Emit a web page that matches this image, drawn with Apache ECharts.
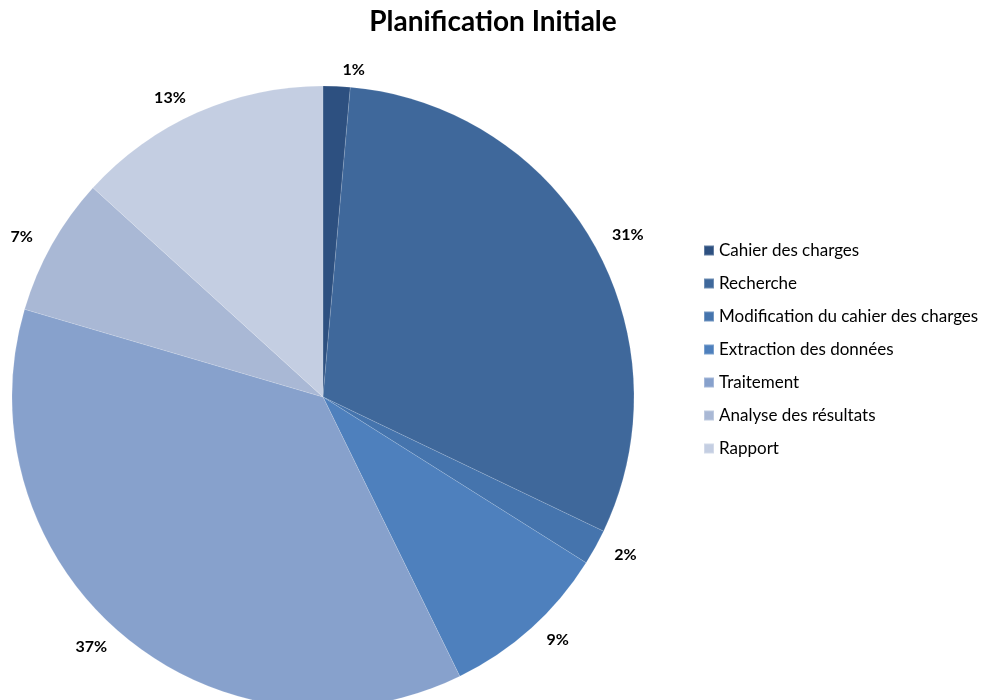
<!DOCTYPE html>
<html>
<head>
<meta charset="utf-8">
<script src="https://cdn.jsdelivr.net/npm/echarts@6/dist/echarts.min.js"></script>
<style>
  html, body { margin: 0; padding: 0; background: #fff; }
  #chart { width: 994px; height: 700px; }
</style>
</head>
<body>
<div id="chart"></div>
<script>
// Data
const categories = [
  'Cahier des charges',
  'Recherche',
  'Modification du cahier des charges',
  'Extraction des données',
  'Traitement',
  'Analyse des résultats',
  'Rapport'
]
const shares = [1.4, 30.7, 1.85, 8.8, 36.8, 7.2, 13.25]
const colors = ['#2d5080', '#3f689b', '#4574ad', '#4e80bd', '#87a1cc', '#a9b8d5', '#c4cee2']

const chart = echarts.init(document.getElementById('chart'))

chart.setOption({
  animation: false,
  color: colors,
  title: {
    text: 'Planification Initiale',
    left: 488,
    top: 3,
    textAlign: 'center',
    textStyle: {
      fontFamily: 'Lato',
      fontSize: 28,
      fontWeight: 'bold',
      color: '#000'
    }
  },
  legend: {
    orient: 'vertical',
    left: 698,
    top: 237,
    itemWidth: 10,
    itemHeight: 10,
    itemGap: 16,
    icon: 'rect',
    textStyle: {
      fontFamily: 'Lato',
      fontSize: 17,
      lineHeight: 16,
      color: '#000'
    },
    data: categories
  },
  series: [{
    type: 'pie',
    center: [323, 397],
    radius: 311,
    startAngle: 90,
    clockwise: true,
    data: categories.map((name, i) => ({ name: name, value: shares[i] })),
    itemStyle: {
      borderColor: 'rgba(255,255,255,0.25)',
      borderWidth: 0.5
    },
    label: {
      show: true,
      position: 'outside',
      formatter: (p) => Math.round(p.percent) + '%',
      fontFamily: 'Lato',
      fontSize: 16,
      fontWeight: 'bold',
      color: '#000'
    },
    labelLine: {
      show: false,
      length: 16,
      length2: 0
    },
    emphasis: { disabled: true }
  }]
})
</script>
</body>
</html>
